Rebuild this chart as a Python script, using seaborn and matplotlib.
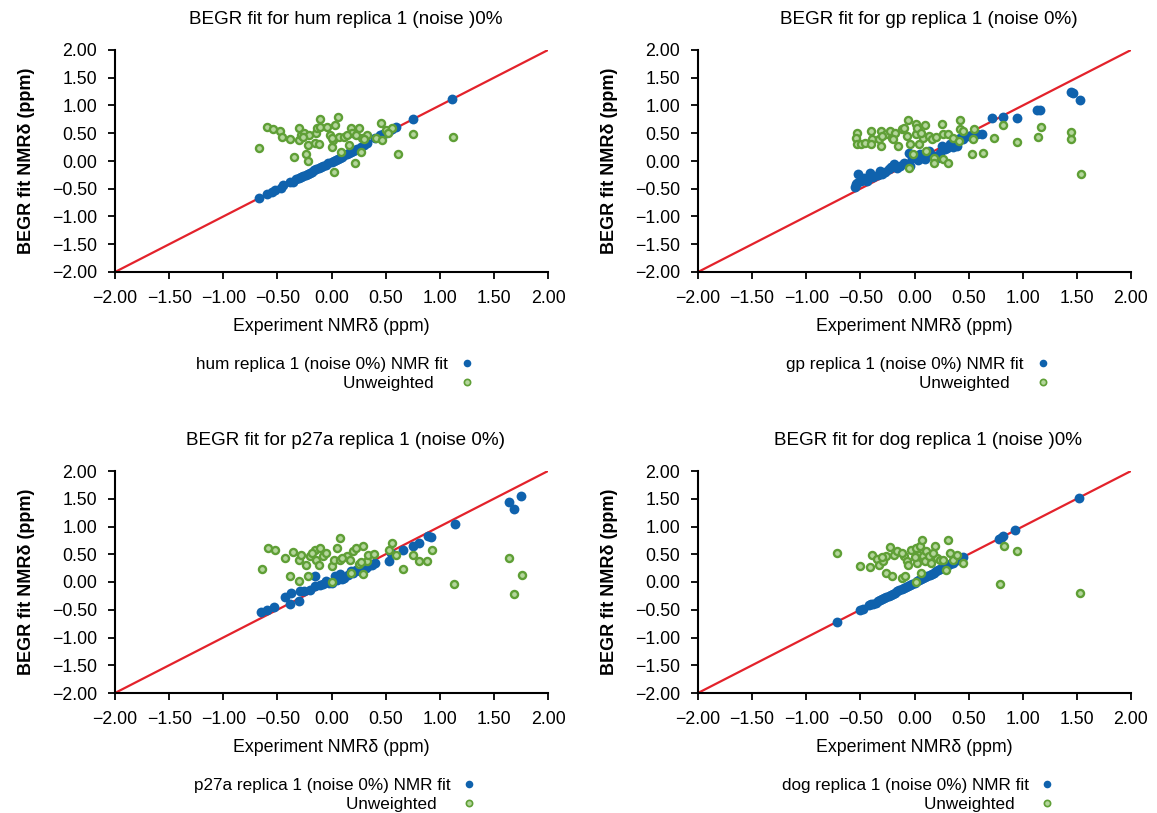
import numpy as np
import pandas as pd
import matplotlib
matplotlib.use("Agg")
import matplotlib.pyplot as plt
from matplotlib.lines import Line2D
import seaborn as sns

# ---- data: experimental shift (x) vs BEGR-fitted shift (y), in ppm ----
hum_fit_x = [-0.67, -0.60, -0.55, -0.52, -0.47, -0.45, -0.38, -0.36, -0.33, -0.30, -0.28, -0.26,
             -0.24, -0.22, -0.20, -0.18, -0.16, -0.14, -0.12, -0.10, -0.08, -0.05, -0.03, 0.00,
             0.02, 0.04, 0.06, 0.08, 0.10, 0.12, 0.14, 0.16, 0.18, 0.20, 0.22, 0.24, 0.27, 0.30,
             0.33, 0.40, 0.45, 0.48, 0.50, 0.53, 0.56, 0.60, 0.75, 1.11]
hum_fit_y = [-0.66, -0.60, -0.56, -0.52, -0.48, -0.44, -0.38, -0.37, -0.33, -0.31, -0.28, -0.27,
             -0.25, -0.23, -0.21, -0.19, -0.17, -0.15, -0.13, -0.11, -0.09, -0.07, -0.04, -0.01,
             0.00, 0.02, 0.04, 0.06, 0.08, 0.10, 0.12, 0.14, 0.16, 0.18, 0.20, 0.22, 0.25, 0.28,
             0.32, 0.41, 0.46, 0.49, 0.51, 0.54, 0.57, 0.61, 0.75, 1.11]
hum_unw_x = [-0.67, -0.60, -0.54, -0.48, -0.46, -0.38, -0.35, -0.30, -0.30, -0.28, -0.25, -0.24,
             -0.22, -0.22, -0.21, -0.15, -0.14, -0.13, -0.12, -0.11, -0.11, -0.04, -0.01, 0.00,
             0.01, 0.02, 0.03, 0.06, 0.07, 0.09, 0.12, 0.16, 0.18, 0.19, 0.22, 0.25, 0.27, 0.28,
             0.33, 0.41, 0.46, 0.47, 0.50, 0.56, 0.61, 0.75, 1.12, -0.26, 0.00, 0.14, 0.23, 0.30, 0.52]
hum_unw_y = [0.24, 0.61, 0.57, 0.54, 0.43, 0.40, 0.08, 0.59, 0.38, 0.47, 0.50, 0.12,
             0.29, 0.00, 0.46, 0.32, 0.50, 0.59, 0.31, 0.75, 0.62, 0.61, 0.47, 0.26,
             0.38, -0.19, 0.64, 0.80, 0.44, 0.17, 0.44, 0.28, 0.59, 0.50, -0.03, 0.59, 0.16, 0.41,
             0.47, 0.42, 0.69, 0.37, 0.55, 0.59, 0.13, 0.48, 0.43, 0.44, 0.41, 0.47, 0.46, 0.40, 0.50]

gp_fit_x = [-0.55, -0.54, -0.53, -0.52, -0.49, -0.47, -0.44, -0.41, -0.38, -0.34, -0.32, -0.30,
            -0.27, -0.24, -0.22, -0.19, -0.16, -0.13, -0.10, -0.07, -0.05, -0.04, -0.02, 0.01,
            0.03, 0.05, 0.08, 0.10, 0.13, 0.15, 0.18, 0.21, 0.24, 0.25, 0.28, 0.30, 0.33, 0.36,
            0.39, 0.42, 0.45, 0.50, 0.53, 0.58, 0.62, 0.72, 0.82, 0.95, 1.13, 1.16, 1.45, 1.46, 1.53]
gp_fit_y = [-0.46, -0.42, -0.40, -0.24, -0.36, -0.30, -0.36, -0.21, -0.28, -0.26, -0.18, -0.24,
            -0.20, -0.15, -0.10, -0.06, -0.12, -0.09, -0.03, -0.05, 0.15, -0.09, 0.05, 0.09,
            0.02, 0.12, 0.06, 0.03, 0.18, 0.10, 0.09, 0.05, 0.15, 0.27, 0.22, 0.24, 0.30, 0.26,
            0.27, 0.42, 0.39, 0.45, 0.47, 0.48, 0.49, 0.77, 0.79, 0.77, 0.91, 0.91, 1.25, 1.22, 1.10]
gp_unw_x = [-0.53, -0.54, -0.53, -0.49, -0.46, -0.40, -0.39, -0.40, -0.33, -0.31, -0.31, -0.26,
            -0.23, -0.21, -0.18, -0.15, -0.12, -0.10, -0.07, -0.06, -0.05, -0.04, -0.01, 0.01,
            0.01, 0.02, 0.04, 0.08, 0.10, 0.11, 0.13, 0.16, 0.18, 0.18, 0.25, 0.26, 0.26, 0.31,
            0.31, 0.36, 0.41, 0.42, 0.42, 0.45, 0.54, 0.53, 0.55, 0.63, 0.73, 0.82, 0.95, 1.14,
            1.17, 1.45, 1.45, 1.54, -0.30, -0.20, 0.06, 0.20]
gp_unw_y = [0.51, 0.42, 0.30, 0.30, 0.33, 0.54, 0.40, 0.30, 0.39, 0.27, 0.54, 0.48,
            0.54, 0.42, 0.51, 0.27, 0.57, 0.60, 0.45, 0.73, -0.12, 0.30, 0.12, 0.66,
            0.48, 0.60, 0.30, 0.42, 0.64, 0.18, 0.45, 0.39, 0.06, -0.03, 0.67, 0.49, 0.03, -0.03,
            0.48, 0.42, 0.36, 0.58, 0.73, 0.54, 0.39, 0.12, 0.58, 0.14, 0.42, 0.65, 0.35, 0.44,
            0.61, 0.40, 0.53, -0.23, 0.45, 0.40, 0.50, 0.44]

p27a_fit_x = [-0.65, -0.60, -0.53, -0.43, -0.38, -0.37, -0.30, -0.29, -0.25, -0.20, -0.15, -0.15,
              -0.11, -0.08, -0.05, -0.02, 0.00, 0.03, 0.05, 0.08, 0.10, 0.12, 0.15, 0.18, 0.20,
              0.23, 0.26, 0.29, 0.32, 0.34, 0.37, 0.40, 0.53, 0.55, 0.66, 0.75, 0.81, 0.89, 0.92,
              1.14, 1.64, 1.69, 1.75]
p27a_fit_y = [-0.54, -0.50, -0.45, -0.27, -0.39, -0.19, -0.35, -0.17, -0.17, -0.14, 0.10, -0.08,
              -0.05, -0.03, 0.01, -0.01, -0.02, 0.10, 0.03, 0.15, 0.06, 0.07, 0.12, 0.19, 0.16,
              0.22, 0.20, 0.28, 0.25, 0.28, 0.31, 0.35, 0.37, 0.52, 0.58, 0.65, 0.71, 0.83, 0.81,
              1.04, 1.45, 1.31, 1.55]
p27a_unw_x = [-0.64, -0.59, -0.52, -0.43, -0.38, -0.36, -0.30, -0.30, -0.28, -0.24, -0.22, -0.20,
              -0.15, -0.14, -0.12, -0.11, -0.08, -0.05, 0.00, 0.00, 0.02, 0.05, 0.08, 0.08, 0.14,
              0.17, 0.18, 0.20, 0.23, 0.25, 0.29, 0.29, 0.33, 0.34, 0.39, 0.53, 0.56, 0.60, 0.66,
              0.75, 0.81, 0.88, 0.93, 1.13, 1.64, 1.69, 1.76, -0.18, 0.10, 0.27]
p27a_unw_y = [0.24, 0.61, 0.58, 0.44, 0.10, 0.54, 0.01, 0.39, 0.49, 0.30, 0.11, 0.47,
              0.58, 0.40, 0.31, 0.61, 0.46, 0.52, 0.28, 0.00, 0.40, 0.61, 0.79, 0.40, 0.46,
              0.40, 0.17, 0.55, 0.61, 0.33, 0.64, 0.15, 0.37, 0.48, 0.50, 0.58, 0.70, 0.49, 0.24,
              0.49, 0.37, 0.37, 0.58, -0.03, 0.43, -0.22, 0.13, 0.52, 0.44, 0.36]

dog_fit_x = [-0.72, -0.50, -0.48, -0.42, -0.40, -0.38, -0.36, -0.34, -0.32, -0.30, -0.28, -0.26,
             -0.24, -0.22, -0.20, -0.18, -0.16, -0.14, -0.12, -0.10, -0.08, -0.06, -0.04, -0.02,
             0.00, 0.02, 0.04, 0.06, 0.08, 0.10, 0.12, 0.14, 0.16, 0.18, 0.20, 0.22, 0.24, 0.26,
             0.28, 0.30, 0.33, 0.36, 0.40, 0.43, 0.45, 0.78, 0.80, 0.82, 0.93, 1.52]
dog_fit_y = [-0.72, -0.50, -0.48, -0.42, -0.40, -0.39, -0.37, -0.35, -0.33, -0.31, -0.29, -0.27,
             -0.25, -0.23, -0.21, -0.19, -0.17, -0.15, -0.13, -0.11, -0.09, -0.07, -0.05, -0.03,
             -0.01, 0.01, 0.03, 0.05, 0.07, 0.09, 0.11, 0.13, 0.15, 0.17, 0.19, 0.21, 0.23, 0.25,
             0.27, 0.29, 0.32, 0.35, 0.39, 0.42, 0.45, 0.78, 0.80, 0.82, 0.93, 1.51]
dog_unw_x = [-0.72, -0.50, -0.41, -0.39, -0.35, -0.33, -0.29, -0.26, -0.26, -0.23, -0.21, -0.19,
             -0.16, -0.12, -0.09, -0.10, -0.07, -0.06, -0.03, 0.01, 0.01, 0.02, 0.04, 0.05, 0.06,
             0.07, 0.08, 0.10, 0.11, 0.15, 0.19, 0.21, 0.24, 0.29, 0.31, 0.33, 0.36, 0.39, 0.45,
             0.79, 0.83, 0.95, 1.53, -0.30, -0.12, 0.00, 0.13, 0.17, 0.26]
dog_unw_y = [0.53, 0.29, 0.27, 0.48, 0.41, 0.31, 0.37, 0.46, 0.16, 0.63, 0.10, 0.49,
             0.55, 0.07, 0.11, 0.46, 0.37, 0.31, 0.58, 0.61, 0.00, 0.34, 0.49, 0.64, 0.17,
             0.75, 0.46, 0.37, 0.55, 0.34, 0.65, 0.43, 0.40, 0.22, 0.75, 0.53, 0.40, 0.49, 0.35,
             -0.04, 0.64, 0.55, -0.20, 0.45, 0.52, 0.45, 0.47, 0.52, 0.40]

panels = [
    ("BEGR fit for hum replica 1 (noise )0%", "hum replica 1 (noise 0%) NMR fit",
     hum_fit_x, hum_fit_y, hum_unw_x, hum_unw_y),
    ("BEGR fit for gp replica 1 (noise 0%)", "gp replica 1 (noise 0%) NMR fit",
     gp_fit_x, gp_fit_y, gp_unw_x, gp_unw_y),
    ("BEGR fit for p27a replica 1 (noise 0%)", "p27a replica 1 (noise 0%) NMR fit",
     p27a_fit_x, p27a_fit_y, p27a_unw_x, p27a_unw_y),
    ("BEGR fit for dog replica 1 (noise )0%", "dog replica 1 (noise 0%) NMR fit",
     dog_fit_x, dog_fit_y, dog_unw_x, dog_unw_y),
]
ticks = [-2.0, -1.5, -1.0, -0.5, 0.0, 0.5, 1.0, 1.5, 2.0]
unweighted_label = "Unweighted"

sns.set_style("ticks")
plt.rcParams["font.family"] = ["Liberation Sans", "DejaVu Sans"]
plt.rcParams["axes.unicode_minus"] = True
for key in ("text.color", "axes.labelcolor", "xtick.color", "ytick.color"):
    plt.rcParams[key] = "black"

BLUE = "#0f62ad"
GREEN_EDGE = "#5f9f36"
GREEN_FACE = "#b4d69c"
RED = "#e3222b"
FS = 12.8

fig = plt.figure(figsize=(11.57, 8.13), dpi=100)
W, H = 1157, 813
boxes = [(115, 50), (698, 50), (115, 471), (698, 471)]
aw, ah = 433, 222

for (title, fit_label, fx, fy, ux, uy), (l, t) in zip(panels, boxes):
    ax = fig.add_axes([l / W, 1 - (t + ah) / H, aw / W, ah / H])
    ax.plot([ticks[0], ticks[-1]], [ticks[0], ticks[-1]], color=RED, lw=1.6, zorder=2)
    sns.scatterplot(x=fx, y=fy, ax=ax, color=BLUE, s=50, linewidth=0, zorder=3)
    sns.scatterplot(x=ux, y=uy, ax=ax, color=GREEN_FACE, edgecolor=GREEN_EDGE,
                    s=26, linewidth=1.7, zorder=4)
    ax.set_xlim(-2, 2)
    ax.set_ylim(-2, 2)
    ax.set_xticks(ticks)
    ax.set_yticks(ticks)
    ax.set_xticklabels([f"{v:.2f}".replace("-", "\u2212") for v in ticks], fontsize=FS)
    ax.set_yticklabels([f"{v:.2f}".replace("-", "\u2212") for v in ticks], fontsize=FS)
    ax.tick_params(direction="out", length=5, width=1.3, color="black", labelcolor="black")
    ax.tick_params(axis="x", pad=8)
    ax.tick_params(axis="y", pad=8)
    sns.despine(ax=ax)
    for sp in ("left", "bottom"):
        ax.spines[sp].set_linewidth(1.5)
        ax.spines[sp].set_color("black")
        ax.spines[sp].set_zorder(5)
    for coll in ax.collections:
        coll.set_clip_on(False)
    ax.set_title(title, fontsize=13.6, pad=19, x=0.532, color="black")
    ax.set_xlabel("Experiment NMRδ (ppm)", fontsize=FS, labelpad=8, color="black")
    ax.set_ylabel("BEGR fit NMRδ (ppm)", fontsize=13, fontweight="bold", labelpad=12,
                  color="black")

    handles = [
        Line2D([], [], ls="none", marker="o", markersize=5.5, color=BLUE, markeredgewidth=0),
        Line2D([], [], ls="none", marker="o", markersize=4.5, markerfacecolor=GREEN_FACE,
               markeredgecolor=GREEN_EDGE, markeredgewidth=1.2),
    ]
    leg = ax.legend(handles, [fit_label, unweighted_label + "   "], loc="upper center",
                    bbox_to_anchor=(0.51, -0.345), markerfirst=False, frameon=False,
                    fontsize=12.3, handlelength=1.0, handletextpad=0.6, labelspacing=0.2,
                    borderpad=0)
    for txt in leg.get_texts():
        txt.set_color("black")

fig.savefig("out.png", dpi=100)
